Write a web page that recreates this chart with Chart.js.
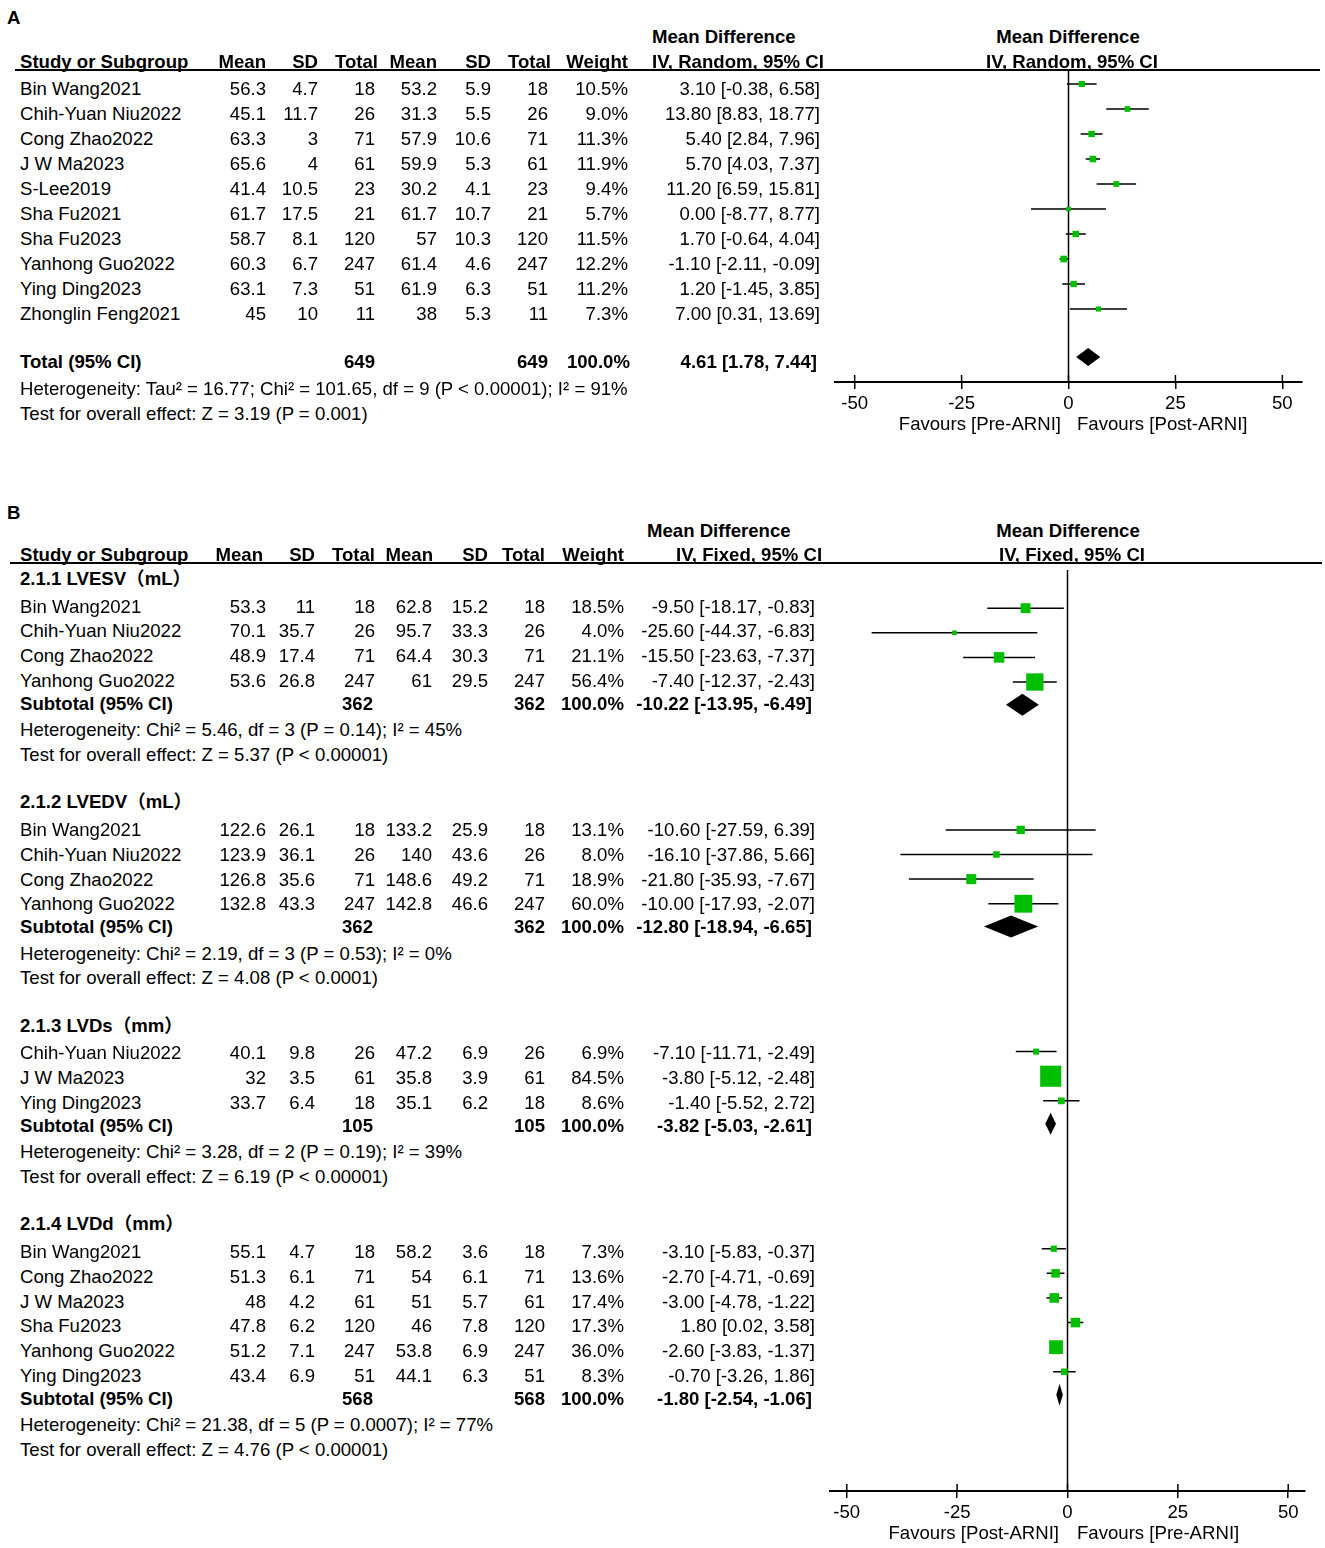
<!DOCTYPE html>
<html>
<head>
<meta charset="utf-8">
<script src="https://cdn.jsdelivr.net/npm/chart.js@4.4.1/dist/chart.umd.min.js"></script>
<style>
body { margin: 0; background: #fff; }
#page { position: relative; width: 1325px; height: 1548px; overflow: hidden; font-family: "Liberation Sans", Arial, "Noto Sans CJK SC", sans-serif; color: #000; }
.t { position: absolute; font-size: 18.6px; line-height: 20px; white-space: nowrap; }
.b { font-weight: bold; }
.rule { position: absolute; height: 2px; background: #000; }
canvas { position: absolute; }
</style>
</head>
<body>
<div id="page">
  <canvas id="plotA"></canvas>
  <canvas id="plotB"></canvas>
</div>
<script>
// ---- Panel A: IV, Random ----
const aStudies = ['Bin Wang2021', 'Chih-Yuan Niu2022', 'Cong Zhao2022', 'J W Ma2023', 'S-Lee2019', 'Sha Fu2021', 'Sha Fu2023', 'Yanhong Guo2022', 'Ying Ding2023', 'Zhonglin Feng2021'];
const aMean1 = [56.3, 45.1, 63.3, 65.6, 41.4, 61.7, 58.7, 60.3, 63.1, 45];
const aSd1 = [4.7, 11.7, 3, 4, 10.5, 17.5, 8.1, 6.7, 7.3, 10];
const aN1 = [18, 26, 71, 61, 23, 21, 120, 247, 51, 11];
const aMean2 = [53.2, 31.3, 57.9, 59.9, 30.2, 61.7, 57, 61.4, 61.9, 38];
const aSd2 = [5.9, 5.5, 10.6, 5.3, 4.1, 10.7, 10.3, 4.6, 6.3, 5.3];
const aN2 = [18, 26, 71, 61, 23, 21, 120, 247, 51, 11];
const aWeight = [10.5, 9.0, 11.3, 11.9, 9.4, 5.7, 11.5, 12.2, 11.2, 7.3];
const aMD = [3.10, 13.80, 5.40, 5.70, 11.20, 0.00, 1.70, -1.10, 1.20, 7.00];
const aLo = [-0.38, 8.83, 2.84, 4.03, 6.59, -8.77, -0.64, -2.11, -1.45, 0.31];
const aHi = [6.58, 18.77, 7.96, 7.37, 15.81, 8.77, 4.04, -0.09, 3.85, 13.69];
const aTotalN = [649, 649];
const aTotal = [4.61, 1.78, 7.44]; // md, lo, hi
const aHet = 'Heterogeneity: Tau² = 16.77; Chi² = 101.65, df = 9 (P < 0.00001); I² = 91%';
const aTest = 'Test for overall effect: Z = 3.19 (P = 0.001)';
const aFavours = ['Favours [Pre-ARNI]', 'Favours [Post-ARNI]'];

// ---- Panel B: IV, Fixed, 4 subgroups ----
const bGroups = ['2.1.1 LVESV（mL）', '2.1.2 LVEDV（mL）', '2.1.3 LVDs（mm）', '2.1.4 LVDd（mm）'];
const bStudies = [
    ['Bin Wang2021', 'Chih-Yuan Niu2022', 'Cong Zhao2022', 'Yanhong Guo2022'],
    ['Bin Wang2021', 'Chih-Yuan Niu2022', 'Cong Zhao2022', 'Yanhong Guo2022'],
    ['Chih-Yuan Niu2022', 'J W Ma2023', 'Ying Ding2023'],
    ['Bin Wang2021', 'Cong Zhao2022', 'J W Ma2023', 'Sha Fu2023', 'Yanhong Guo2022', 'Ying Ding2023']
];
const bMean1 = [[53.3, 70.1, 48.9, 53.6], [122.6, 123.9, 126.8, 132.8], [40.1, 32, 33.7], [55.1, 51.3, 48, 47.8, 51.2, 43.4]];
const bSd1 = [[11, 35.7, 17.4, 26.8], [26.1, 36.1, 35.6, 43.3], [9.8, 3.5, 6.4], [4.7, 6.1, 4.2, 6.2, 7.1, 6.9]];
const bN1 = [[18, 26, 71, 247], [18, 26, 71, 247], [26, 61, 18], [18, 71, 61, 120, 247, 51]];
const bMean2 = [[62.8, 95.7, 64.4, 61], [133.2, 140, 148.6, 142.8], [47.2, 35.8, 35.1], [58.2, 54, 51, 46, 53.8, 44.1]];
const bSd2 = [[15.2, 33.3, 30.3, 29.5], [25.9, 43.6, 49.2, 46.6], [6.9, 3.9, 6.2], [3.6, 6.1, 5.7, 7.8, 6.9, 6.3]];
const bN2 = [[18, 26, 71, 247], [18, 26, 71, 247], [26, 61, 18], [18, 71, 61, 120, 247, 51]];
const bWeight = [[18.5, 4.0, 21.1, 56.4], [13.1, 8.0, 18.9, 60.0], [6.9, 84.5, 8.6], [7.3, 13.6, 17.4, 17.3, 36.0, 8.3]];
const bMD = [[-9.50, -25.60, -15.50, -7.40], [-10.60, -16.10, -21.80, -10.00], [-7.10, -3.80, -1.40], [-3.10, -2.70, -3.00, 1.80, -2.60, -0.70]];
const bLo = [[-18.17, -44.37, -23.63, -12.37], [-27.59, -37.86, -35.93, -17.93], [-11.71, -5.12, -5.52], [-5.83, -4.71, -4.78, 0.02, -3.83, -3.26]];
const bHi = [[-0.83, -6.83, -7.37, -2.43], [6.39, 5.66, -7.67, -2.07], [-2.49, -2.48, 2.72], [-0.37, -0.69, -1.22, 3.58, -1.37, 1.86]];
const bSubN = [362, 362, 105, 568];
const bSubMD = [-10.22, -12.80, -3.82, -1.80];
const bSubLo = [-13.95, -18.94, -5.03, -2.54];
const bSubHi = [-6.49, -6.65, -2.61, -1.06];
const bHet = [
    'Heterogeneity: Chi² = 5.46, df = 3 (P = 0.14); I² = 45%',
    'Heterogeneity: Chi² = 2.19, df = 3 (P = 0.53); I² = 0%',
    'Heterogeneity: Chi² = 3.28, df = 2 (P = 0.19); I² = 39%',
    'Heterogeneity: Chi² = 21.38, df = 5 (P = 0.0007); I² = 77%'
];
const bTest = [
    'Test for overall effect: Z = 5.37 (P < 0.00001)',
    'Test for overall effect: Z = 4.08 (P < 0.0001)',
    'Test for overall effect: Z = 6.19 (P < 0.00001)',
    'Test for overall effect: Z = 4.76 (P < 0.00001)'
];
const bFavours = ['Favours [Post-ARNI]', 'Favours [Pre-ARNI]'];

const colHeads = ['Mean', 'SD', 'Total', 'Mean', 'SD', 'Total', 'Weight'];
const xTicks = [-50, -25, 0, 25, 50];

// ---- helpers ----
const page = document.getElementById('page');

function txt(s, x, y, align, bold) {
    const d = document.createElement('div');
    d.className = 't' + (bold ? ' b' : '');
    d.textContent = s;
    if (align === 'right') {
        d.style.left = (x - 600) + 'px'; d.style.width = '600px'; d.style.textAlign = 'right';
    } else if (align === 'center') {
        d.style.left = (x - 300) + 'px'; d.style.width = '600px'; d.style.textAlign = 'center';
    } else {
        d.style.left = x + 'px';
    }
    d.style.top = (y - 10) + 'px';
    page.appendChild(d);
}

function rule(x1, x2, y) {
    const d = document.createElement('div');
    d.className = 'rule';
    d.style.left = x1 + 'px'; d.style.width = (x2 - x1) + 'px'; d.style.top = (y - 1) + 'px';
    page.appendChild(d);
}

function ci(md, lo, hi) {
    return md.toFixed(2) + ' [' + lo.toFixed(2) + ', ' + hi.toFixed(2) + ']';
}

function row(y, label, cells, cols, bold) {
    txt(label, 20, y, 'left', bold);
    cells.forEach(function (c, j) {
        if (c !== '') txt(c, cols[j], y, 'right', bold);
    });
}

// draws zero line, diamonds and the upper half of the tick marks
const forestDraw = {
    id: 'forestDraw',
    beforeDatasetsDraw(chart) {
        const x = chart.scales.x, a = chart.chartArea;
        const ctx = chart.ctx;
        ctx.save();
        ctx.strokeStyle = '#000';
        ctx.lineWidth = 1.5;
        ctx.beginPath();
        ctx.moveTo(x.getPixelForValue(0), a.top);
        ctx.lineTo(x.getPixelForValue(0), a.bottom);
        ctx.stroke();
        xTicks.forEach(function (v) {
            const px = x.getPixelForValue(v);
            ctx.beginPath();
            ctx.moveTo(px, a.bottom - 7);
            ctx.lineTo(px, a.bottom);
            ctx.stroke();
        });
        ctx.restore();
    },
    afterDatasetsDraw(chart, args, opts) {
        const x = chart.scales.x, y = chart.scales.y;
        const ctx = chart.ctx;
        ctx.save();
        ctx.fillStyle = '#000';
        (opts.diamonds || []).forEach(function (d) {
            const py = y.getPixelForValue(d.y);
            ctx.beginPath();
            ctx.moveTo(x.getPixelForValue(d.lo), py);
            ctx.lineTo(x.getPixelForValue(d.md), py - opts.half);
            ctx.lineTo(x.getPixelForValue(d.hi), py);
            ctx.lineTo(x.getPixelForValue(d.md), py + opts.half);
            ctx.closePath();
            ctx.fill();
        });
        ctx.restore();
    }
};

// y of every mark = text row centre of its line, the plot rows sit 5px higher
const PLOT_SHIFT = -5;

function forest(id, cfg) {
    const cv = document.getElementById(id);
    cv.width = cfg.canvas[2];
    cv.height = cfg.canvas[3];
    cv.style.left = cfg.canvas[0] + 'px';
    cv.style.top = cfg.canvas[1] + 'px';
    const ciPts = [];
    cfg.points.forEach(function (p) {
        ciPts.push({ x: p.lo, y: p.y + PLOT_SHIFT }, { x: p.hi, y: p.y + PLOT_SHIFT }, { x: null, y: null });
    });
    new Chart(cv.getContext('2d'), {
        type: 'scatter',
        data: {
            datasets: [{
                data: cfg.points.map(function (p) { return { x: p.md, y: p.y + PLOT_SHIFT }; }),
                pointStyle: 'rect',
                pointRadius: cfg.points.map(function (p) { return cfg.k * Math.sqrt(p.w) / Math.SQRT2; }),
                backgroundColor: '#00bf00',
                borderWidth: 0,
                order: 0
            }, {
                data: ciPts,
                showLine: true,
                spanGaps: false,
                borderColor: '#000',
                borderWidth: 1.5,
                pointRadius: 0,
                order: 1
            }]
        },
        options: {
            responsive: false,
            animation: false,
            events: [],
            layout: {
                padding: {
                    left: cfg.area[0] - cfg.canvas[0],
                    right: cfg.canvas[0] + cfg.canvas[2] - cfg.area[2],
                    top: cfg.area[1] - cfg.canvas[1],
                    bottom: 0
                }
            },
            plugins: {
                legend: { display: false },
                tooltip: { enabled: false },
                forestDraw: {
                    diamonds: cfg.diamonds.map(function (d) { return { y: d.y + PLOT_SHIFT, md: d.md, lo: d.lo, hi: d.hi }; }),
                    half: cfg.half
                }
            },
            scales: {
                x: {
                    type: 'linear',
                    min: cfg.xRange[0],
                    max: cfg.xRange[1],
                    afterBuildTicks: function (s) { s.ticks = xTicks.map(function (v) { return { value: v }; }); },
                    afterFit: function (s) { s.height = cfg.canvas[1] + cfg.canvas[3] - cfg.area[3]; },
                    border: { display: true, color: '#000', width: 2 },
                    grid: { display: true, drawOnChartArea: false, drawTicks: true, tickLength: 7, color: '#000', lineWidth: 1.5 },
                    ticks: {
                        color: '#000', padding: 4, maxRotation: 0, autoSkip: false,
                        font: { family: 'Liberation Sans', size: 18.6 },
                        callback: function (v) { return String(v); }
                    }
                },
                // row positions are laid out in page pixels
                y: { type: 'linear', reverse: true, min: cfg.area[1], max: cfg.area[3], display: false }
            }
        },
        plugins: [forestDraw]
    });
}

// ---- Panel A text ----
const colsA = [266, 318, 375, 437, 491, 548, 628, 820];
const headA = [266, 318, 378, 437, 491, 551, 628];
txt('A', 7, 18, 'left', true);
txt('Mean Difference', 652, 37, 'left', true);
txt('Mean Difference', 1068, 37, 'center', true);
txt('Study or Subgroup', 20, 62, 'left', true);
colHeads.forEach(function (h, j) { txt(h, headA[j], 62, 'right', true); });
txt('IV, Random, 95% CI', 652, 62, 'left', true);
txt('IV, Random, 95% CI', 1072, 62, 'center', true);
rule(15, 1320, 70);

const aPoints = [];
let yA = 89;
aStudies.forEach(function (s, i) {
    row(yA, s, [String(aMean1[i]), String(aSd1[i]), String(aN1[i]), String(aMean2[i]), String(aSd2[i]), String(aN2[i]), aWeight[i].toFixed(1) + '%', ci(aMD[i], aLo[i], aHi[i])], colsA, false);
    aPoints.push({ y: yA, md: aMD[i], lo: aLo[i], hi: aHi[i], w: aWeight[i] });
    yA += 25;
});
yA += 23;
row(yA, 'Total (95% CI)', ['', '', String(aTotalN[0]), '', '', String(aTotalN[1]), '100.0%', ci(aTotal[0], aTotal[1], aTotal[2])], [0, 0, 375, 0, 0, 548, 630, 817], true);
const aTotalY = yA;
txt(aHet, 20, yA + 27, 'left', false);
txt(aTest, 20, yA + 52, 'left', false);
txt(aFavours[0], 1061, 424, 'right', false);
txt(aFavours[1], 1077, 424, 'left', false);

forest('plotA', {
    canvas: [815, 60, 510, 390],
    area: [835, 70, 1302, 382],
    xRange: [-54.6, 54.6],
    points: aPoints,
    diamonds: [{ y: aTotalY, md: aTotal[0], lo: aTotal[1], hi: aTotal[2] }],
    k: 1.9, half: 9
});

// ---- Panel B text ----
const colsB = [266, 315, 375, 432, 488, 545, 624, 815];
const headB = [263, 315, 375, 433, 488, 545, 624];
txt('B', 7, 513, 'left', true);
txt('Mean Difference', 647, 531, 'left', true);
txt('Mean Difference', 1068, 531, 'center', true);
txt('Study or Subgroup', 20, 555, 'left', true);
colHeads.forEach(function (h, j) { txt(h, headB[j], 555, 'right', true); });
txt('IV, Fixed, 95% CI', 676, 555, 'left', true);
txt('IV, Fixed, 95% CI', 1072, 555, 'center', true);
rule(10, 1322, 563);

const bPoints = [], bDiamonds = [];
let yB = 579;
bGroups.forEach(function (g, gi) {
    txt(g, 20, yB, 'left', true);
    yB += 27.5;
    bStudies[gi].forEach(function (s, i) {
        if (i > 0) yB += 24.8;
        row(yB, s, [String(bMean1[gi][i]), String(bSd1[gi][i]), String(bN1[gi][i]), String(bMean2[gi][i]), String(bSd2[gi][i]), String(bN2[gi][i]), bWeight[gi][i].toFixed(1) + '%', ci(bMD[gi][i], bLo[gi][i], bHi[gi][i])], colsB, false);
        bPoints.push({ y: yB, md: bMD[gi][i], lo: bLo[gi][i], hi: bHi[gi][i], w: bWeight[gi][i] });
    });
    yB += 23;
    row(yB, 'Subtotal (95% CI)', ['', '', String(bSubN[gi]), '', '', String(bSubN[gi]), '100.0%', ci(bSubMD[gi], bSubLo[gi], bSubHi[gi])], [0, 0, 373, 0, 0, 545, 624, 812], true);
    bDiamonds.push({ y: yB, md: bSubMD[gi], lo: bSubLo[gi], hi: bSubHi[gi] });
    yB += 26.5;
    txt(bHet[gi], 20, yB, 'left', false);
    yB += 24.3;
    txt(bTest[gi], 20, yB, 'left', false);
    yB += 47.7;
});
txt(bFavours[0], 1059, 1533, 'right', false);
txt(bFavours[1], 1077, 1533, 'left', false);

forest('plotB', {
    canvas: [810, 555, 515, 993],
    area: [830, 563, 1305, 1491],
    xRange: [-53.8, 53.8],
    points: bPoints,
    diamonds: bDiamonds,
    k: 2.3, half: 11
});
</script>
</body>
</html>
